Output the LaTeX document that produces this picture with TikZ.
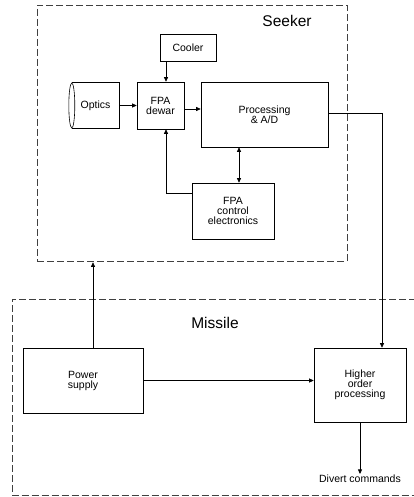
\documentclass[tikz,border=0pt]{standalone}
\usepackage{fontspec}
\setmainfont{Liberation Sans}
\usetikzlibrary{arrows.meta, positioning, shapes.geometric}
\tikzset{
  block/.style={rectangle,draw,align=center,inner sep=1pt,line width=0.6pt,font=\fontsize{10.5}{10}\selectfont},
  lens/.style={rectangle,align=center,inner sep=1pt,font=\fontsize{10.5}{10}\selectfont},
  zone/.style={draw=black!75,line width=0.6pt,dash pattern=on 7pt off 3pt},
  title/.style={font=\fontsize{15.5}{17}\selectfont},
  line/.style={line width=0.6pt,-{Triangle[length=4.5pt,width=4pt]}},
  both/.style={line width=0.6pt,{Triangle[length=4.5pt,width=4pt]}-{Triangle[length=4.5pt,width=4pt]}}
}

\begin{document}
\begin{tikzpicture}[x=1pt,y=-1pt]
\useasboundingbox (0,0) rectangle (414,497);
% seeker
\node[zone, minimum width=310pt, minimum height=256pt, inner sep=0pt] (seekerbox) at (192,133) {};
\node[title] (seeker) at (287,21) {Seeker};
\node[block, minimum width=56pt, minimum height=27pt] (cooler) at (188,47.5) {Cooler};
\node[lens, minimum width=47pt, minimum height=45pt] (optics) at (95.5,105.5) {Optics};
\draw[line width=0.6pt] (optics.north west) -- (optics.north east) -- (optics.south east) -- (optics.south west);
\draw[line width=0.6pt] (optics.west) ellipse (3pt and 22.5pt);
\node[block, minimum width=47pt, minimum height=47pt] (dewar) at (160.5,105.5) {FPA\\dewar};
\node[block, minimum width=127pt, minimum height=65pt] (proc) at (264.5,114.5) {Processing\\\& A/D};
\node[block, minimum width=82pt, minimum height=56pt] (ctrl) at (233,211) {FPA\\control\\electronics};
% missile
\draw[zone] (416,299) -- (12,299) -- (12,495.5) -- (416,495.5);
\node[title] (missile) at (215,323) {Missile};
\node[block, minimum width=120pt, minimum height=65pt] (power) at (83,380.5) {Power\\supply};
\node[block, minimum width=92pt, minimum height=74pt] (higher) at (360,385) {Higher\\order\\processing};
\node[font=\fontsize{10.5}{10}\selectfont, inner sep=1pt] (divert) at (360,479) {Divert commands};
% connectors
\coordinate (cx) at (166,0);
\coordinate (fb) at (166,193);
\coordinate (px) at (239,0);
\coordinate (hx) at (382,0);
\coordinate (sx) at (93,0);
\coordinate (dy) at (0,109);
\draw[line] (optics.east) -- (dewar.west);
\draw[line] (dewar.east |- dy) -- (proc.west |- dy);
\draw[line] (cooler.south -| cx) -- (dewar.north -| cx);
\draw[line] (ctrl.west |- fb) -- (fb) -- (dewar.south -| fb);
\draw[both] (proc.south -| px) -- (ctrl.north -| px);
\draw[line] ([yshift=1.5pt]proc.east) -| (higher.north -| hx);
\draw[line] (power.north -| sx) -- ([yshift=-1pt]seekerbox.south -| sx);
\draw[line] (power.east) -- (higher.west |- power.east);
\draw[line] (higher.south) -- (divert.north);
\end{tikzpicture}
\end{document}
